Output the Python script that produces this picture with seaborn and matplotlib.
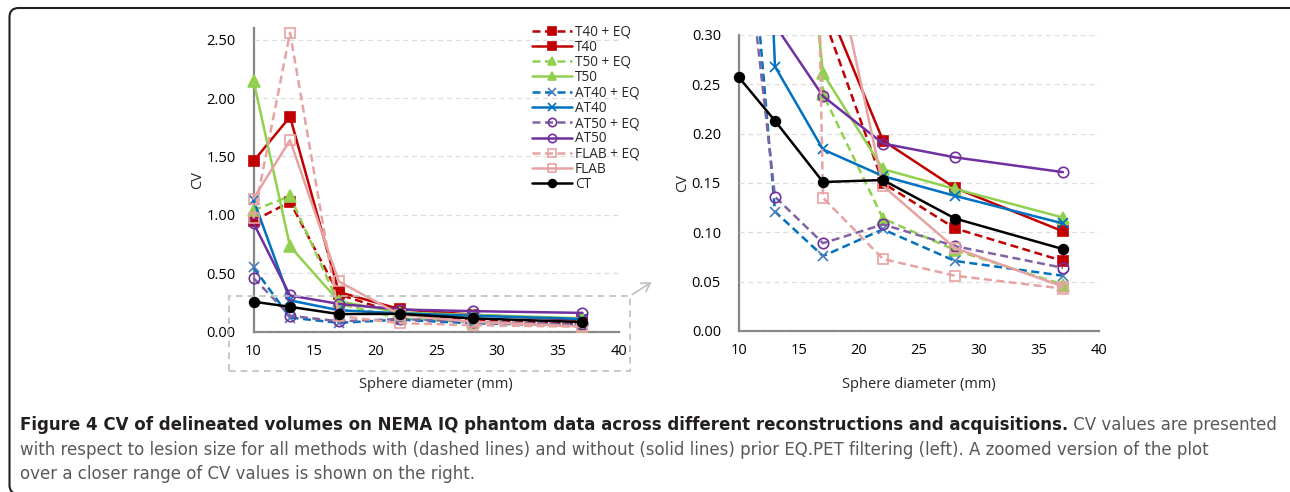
import matplotlib
matplotlib.use("Agg")
import matplotlib.pyplot as plt
import matplotlib.patches as mpatches
from matplotlib.transforms import IdentityTransform
import seaborn as sns
import pandas as pd

# ---------------- data ----------------
diameters = [10, 13, 17, 22, 28, 37]
series_names = ["T40 + EQ", "T40", "T50 + EQ", "T50", "AT40 + EQ", "AT40",
                "AT50 + EQ", "AT50", "FLAB + EQ", "FLAB", "CT"]
t40_eq = [0.95, 1.11, 0.32, 0.150, 0.104, 0.071]
t40 = [1.46, 1.84, 0.34, 0.193, 0.145, 0.101]
t50_eq = [1.04, 1.16, 0.24, 0.114, 0.082, 0.047]
t50 = [2.15, 0.73, 0.261, 0.164, 0.144, 0.115]
at40_eq = [0.55, 0.121, 0.076, 0.103, 0.071, 0.056]
at40 = [1.13, 0.268, 0.184, 0.157, 0.137, 0.109]
at50_eq = [0.46, 0.136, 0.089, 0.108, 0.086, 0.064]
at50 = [0.93, 0.31, 0.238, 0.190, 0.176, 0.161]
flab_eq = [0.97, 2.56, 0.135, 0.073, 0.056, 0.043]
flab = [1.14, 1.64, 0.43, 0.147, 0.084, 0.045]
ct = [0.257, 0.213, 0.151, 0.153, 0.114, 0.083]
values = [t40_eq, t40, t50_eq, t50, at40_eq, at40, at50_eq, at50, flab_eq, flab, ct]

left_yticks = [0.0, 0.5, 1.0, 1.5, 2.0, 2.5]
right_yticks = [0.0, 0.05, 0.10, 0.15, 0.20, 0.25, 0.30]
xticks = [10, 15, 20, 25, 30, 35, 40]

# ---------------- styles ----------------
DASH = (0, (3.2, 1.8))
styles = {
    "T40 + EQ": dict(color="#C00000", ls=DASH, marker="s", mfc="#C00000", mec="#C00000", ms=6.5),
    "T40": dict(color="#C00000", ls="-", marker="s", mfc="#C00000", mec="#C00000", ms=6.5),
    "T50 + EQ": dict(color="#92D050", ls=DASH, marker="^", mfc="#92D050", mec="#92D050", ms=8),
    "T50": dict(color="#92D050", ls="-", marker="^", mfc="#92D050", mec="#92D050", ms=8),
    "AT40 + EQ": dict(color="#0070C0", ls=DASH, marker="x", mfc="none", mec="#4A7EBB", ms=7.5),
    "AT40": dict(color="#0070C0", ls="-", marker="x", mfc="none", mec="#0070C0", ms=7.5),
    "AT50 + EQ": dict(color="#8064A2", ls=DASH, marker="o", mfc="none", mec="#7030A0", ms=7.5),
    "AT50": dict(color="#7030A0", ls="-", marker="o", mfc="none", mec="#7030A0", ms=7.5),
    "FLAB + EQ": dict(color="#E6A3A1", ls=DASH, marker="s", mfc="none", mec="#E6A3A1", ms=7.5),
    "FLAB": dict(color="#E6A3A1", ls="-", marker="s", mfc="none", mec="#E6A3A1", ms=7.5),
    "CT": dict(color="#000000", ls="-", marker="o", mfc="#000000", mec="#000000", ms=7),
}

sns.set_style("white")
plt.rcParams["font.family"] = ["Open Sans", "DejaVu Sans"]

W, H = 1290, 492
fig = plt.figure(figsize=(W / 100, H / 100), dpi=100)


def px_axes(x0, y_top, x1, y_bot):
    return fig.add_axes([x0 / W, 1 - y_bot / H, (x1 - x0) / W, (y_bot - y_top) / H])


axL = px_axes(253.5, 28, 619, 331.7)
axR = px_axes(739, 35, 1099, 331)

rows = []
for name, vals in zip(series_names, values):
    for d, v in zip(diameters, vals):
        rows.append({"series": name, "diameter": d, "cv": v})
df = pd.DataFrame(rows)

SPINE = "#868686"
GRID = "#DDDDDD"
FS = 10.5


def style_axes(ax, ylim, yticks):
    ax.set_xlim(10, 40)
    ax.set_ylim(*ylim)
    ax.set_xticks(xticks)
    ax.set_yticks(yticks)
    ax.set_yticklabels([f"{t:.2f}" for t in yticks])
    for s in ["top", "right"]:
        ax.spines[s].set_visible(False)
    for s in ["left", "bottom"]:
        ax.spines[s].set_color(SPINE)
        ax.spines[s].set_linewidth(1.6)
        ax.spines[s].set_zorder(0.5)
    ax.tick_params(axis="both", direction="out", length=4, width=1.2, color=SPINE,
                   labelsize=FS, labelcolor="#000000")
    ax.tick_params(axis="y", pad=9)
    ax.tick_params(axis="x", pad=5)
    ax.yaxis.grid(True, color=GRID, linestyle=(0, (4, 3)), linewidth=0.9)
    ax.xaxis.grid(False)
    ax.set_axisbelow(True)
    ax.set_xlabel("Sphere diameter (mm)", fontsize=FS, labelpad=13)
    ax.set_ylabel("CV", fontsize=FS, labelpad=1)


for ax, is_left in [(axL, True), (axR, False)]:
    for i, name in enumerate(series_names):
        st = styles[name]
        sub = df[df["series"] == name]
        sns.lineplot(data=sub, x="diameter", y="cv", ax=ax, color=st["color"],
                     linestyle=st["ls"], linewidth=1.8, marker=st["marker"],
                     markersize=st["ms"], markerfacecolor=st["mfc"],
                     markeredgecolor=st["mec"], markeredgewidth=1.2,
                     label=name if is_left else None, legend=False,
                     estimator=None, sort=False, zorder=2 + i * 0.1)
    if is_left:
        style_axes(ax, (0, 2.6), left_yticks)
        for ln in ax.get_lines():
            ln.set_clip_on(False)
    else:
        style_axes(ax, (0, 0.30), right_yticks)
        clip = mpatches.Rectangle((-0.05, -0.05), 1.1, 1.05, transform=ax.transAxes,
                                  facecolor="none", edgecolor="none")
        ax.add_patch(clip)
        for ln in ax.get_lines():
            ln.set_clip_path(clip)

# legend
handles, labels = axL.get_legend_handles_labels()
leg = fig.legend(handles, labels, loc="upper left",
                 bbox_to_anchor=(527 / W, 1 - 19 / H), frameon=False,
                 fontsize=9.8, handlelength=2.9, handletextpad=0.2,
                 labelspacing=0.02, borderaxespad=0, markerscale=0.8)

# dashed zoom box and arrow (pixel coordinates)
ident = IdentityTransform()
box = mpatches.Rectangle((228.5, H - 370.7), 401, 75, transform=ident,
                         fill=False, edgecolor="#BFBFBF", linewidth=1.2,
                         linestyle=(0, (4, 3)))
fig.patches.append(box)
arrow = mpatches.FancyArrowPatch((630, H - 296), (654, H - 280.5), transform=ident,
                                 arrowstyle="->,head_length=6,head_width=3.5",
                                 color="#BFBFBF", linewidth=1.2, mutation_scale=1)
fig.patches.append(arrow)

# outer rounded frame
frame = mpatches.FancyBboxPatch((9.5, -2), 1300, H - 7.5 + 2 - 0.5,
                                boxstyle="round,pad=0,rounding_size=9",
                                transform=ident, fill=False,
                                edgecolor="#231F20", linewidth=1.5)
fig.patches.append(frame)

# caption
cap_font = ["DejaVu Sans"]
renderer = fig.canvas.get_renderer()
bold_txt = ("Figure 4 CV of delineated volumes on NEMA IQ phantom data across "
            "different reconstructions and acquisitions.")
line1_rest = " CV values are presented"
line2 = ("with respect to lesion size for all methods with (dashed lines) and without "
         "(solid lines) prior EQ.PET filtering (left). A zoomed version of the plot")
line3 = "over a closer range of CV values is shown on the right."

x0 = 20
fs = 13.5
t1 = fig.text(x0 / W, 1 - 425 / H, bold_txt, fontsize=fs, fontweight="bold",
              family=cap_font, color="#231F20", va="center", ha="left")
t1b = fig.text(0, 1 - 425 / H, line1_rest, fontsize=fs, family=cap_font,
               color="#58595B", va="center", ha="left")
bb = t1.get_window_extent(renderer)
bb2 = t1b.get_window_extent(renderer)
total = bb.width + bb2.width
scale = (1275 - x0) / total
fs2 = fs * scale
t1.set_fontsize(fs2)
t1b.set_fontsize(fs2)
bb = t1.get_window_extent(renderer)
t1b.set_x(bb.x1 / W)
fig.text(x0 / W, 1 - 450 / H, line2, fontsize=fs2, family=cap_font,
         color="#58595B", va="center", ha="left")
fig.text(x0 / W, 1 - 474 / H, line3, fontsize=fs2, family=cap_font,
         color="#58595B", va="center", ha="left")

fig.savefig("out.png", dpi=100)
